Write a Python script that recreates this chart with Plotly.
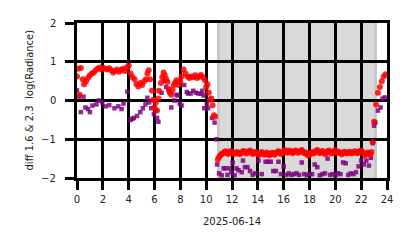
import numpy as np
import plotly.graph_objects as go

# ---- data ----
red_day_hours = [0.0, 0.1, 0.2, 0.3, 0.45, 0.55, 0.7, 0.85, 1.0, 1.15, 1.3, 1.45, 1.6, 1.75, 1.9,
                 2.05, 2.2, 2.35, 2.5, 2.65, 2.8, 2.95, 3.1, 3.25, 3.4, 3.55, 3.7, 3.85, 4.0,
                 4.15, 4.3, 4.45, 4.6, 4.75, 4.9, 5.05, 5.2, 5.35, 5.45, 5.55, 5.65, 5.8, 5.9,
                 6.0, 6.1, 6.2, 6.3, 6.35, 6.5, 6.6, 6.7, 6.8, 6.9, 7.0, 7.1, 7.2, 7.3, 7.4,
                 7.5, 7.6, 7.7, 7.85, 8.0, 8.1, 8.25, 8.4, 8.55, 8.7, 8.85, 9.0, 9.15, 9.3,
                 9.45, 9.6, 9.75, 9.9, 10.0, 10.1, 10.2, 10.3, 10.4, 10.5, 10.6, 10.7]
red_day_vals = [0.62, 0.82, 0.15, 0.84, 0.55, 0.42, 0.50, 0.58, 0.65, 0.70, 0.72, 0.78, 0.82, 0.85, 0.80,
                0.84, 0.82, 0.80, 0.83, 0.78, 0.72, 0.76, 0.80, 0.74, 0.78, 0.82, 0.76, 0.85, 0.90,
                0.70, 0.60, 0.55, 0.42, 0.36, 0.45, 0.40, 0.50, 0.55, 0.70, 0.78, 0.55, 0.25, 0.02,
                -0.18, -0.05, -0.26, 0.05, 0.25, 0.45, 0.60, 0.72, 0.65, 0.55, 0.48, 0.30, 0.20, 0.15,
                0.28, 0.40, 0.46, 0.52, 0.40, 0.50, 0.62, 0.80, 0.70, 0.62, 0.58, 0.62, 0.60, 0.65,
                0.58, 0.62, 0.66, 0.60, 0.52, 0.35, 0.42, 0.20, 0.02, 0.05, -0.12, -0.38, -0.42]

red_night_start = 10.9
red_night_step = 0.1
red_night_vals = [-1.52, -1.46, -1.42, -1.38, -1.36, -1.33, -1.31, -1.35, -1.38, -1.34,
                  -1.30, -1.32, -1.36, -1.38, -1.35, -1.33, -1.36, -1.39, -1.36, -1.32,
                  -1.30, -1.33, -1.37, -1.35, -1.31, -1.29, -1.33, -1.38, -1.36, -1.33,
                  -1.35, -1.38, -1.40, -1.36, -1.33, -1.37, -1.40, -1.37, -1.34, -1.38,
                  -1.41, -1.38, -1.35, -1.37, -1.40, -1.36, -1.33, -1.31, -1.35, -1.38,
                  -1.34, -1.30, -1.28, -1.32, -1.35, -1.31, -1.29, -1.33, -1.36, -1.32,
                  -1.29, -1.31, -1.35, -1.33, -1.30, -1.28, -1.32, -1.36, -1.34, -1.38,
                  -1.42, -1.40, -1.36, -1.33, -1.37, -1.34, -1.30, -1.28, -1.32, -1.36,
                  -1.33, -1.30, -1.34, -1.38, -1.35, -1.31, -1.29, -1.33, -1.37, -1.34,
                  -1.30, -1.28, -1.32, -1.35, -1.33, -1.36, -1.39, -1.35, -1.32, -1.34,
                  -1.37, -1.35, -1.32, -1.34, -1.37, -1.34, -1.31, -1.33, -1.36, -1.34,
                  -1.31, -1.29, -1.33, -1.37, -1.41, -1.38, -1.34, -1.37, -1.40, -1.33]

red_dawn_hours = [22.9, 23.0, 23.15, 23.3, 23.45, 23.6, 23.75, 23.9]
red_dawn_vals = [-1.08, -0.55, -0.10, 0.20, 0.35, 0.50, 0.62, 0.68]

purple_hours = [0.0, 0.15, 0.3, 0.5, 0.65, 0.85, 1.0, 1.2, 1.5, 1.7, 1.95, 2.2, 2.5, 2.9, 3.2,
                3.45, 3.6, 3.9, 4.15, 4.3, 4.4, 4.65, 4.9, 5.1, 5.3, 5.45, 5.6, 5.75, 5.95,
                6.1, 6.2, 6.3, 6.55, 6.75, 6.9, 7.1, 7.3, 7.55, 7.7, 7.8, 7.95, 8.1, 8.3,
                8.5, 8.6, 8.8, 9.0, 9.2, 9.4, 9.6, 9.7, 9.8, 9.85, 10.05, 10.15, 10.45, 10.65,
                10.8, 10.85, 11.0, 11.2, 11.35, 11.5, 11.65, 11.8, 11.95, 12.05, 12.2, 12.35,
                12.5, 12.75, 12.85, 13.0, 13.2, 13.4, 13.6, 13.8, 14.05, 14.3, 14.6, 14.8,
                15.0, 15.2, 15.4, 15.6, 15.8, 16.0, 16.2, 16.4, 16.6, 16.8, 17.0, 17.2, 17.4,
                17.6, 17.8, 18.0, 18.2, 18.4, 18.6, 18.8, 19.0, 19.2, 19.4, 19.6, 19.8, 20.0,
                20.2, 20.4, 20.6, 20.8, 21.0, 21.2, 21.4, 21.6, 21.8, 22.0, 22.2, 22.4, 22.6,
                22.75, 22.9, 23.0, 23.1, 23.3, 23.5, 23.65, 23.85]
purple_vals = [0.26, 0.10, -0.30, 0.10, -0.18, -0.22, -0.30, -0.13, -0.10, 0.00, -0.05, -0.15, -0.12, -0.20, -0.15,
               -0.22, -0.08, 0.23, -0.50, -0.47, -0.45, -0.40, -0.30, -0.20, -0.10, 0.07, -0.05, -0.20, -0.35,
               -0.25, -0.45, -0.55, 0.20, 0.50, 0.35, 0.25, -0.18, 0.00, 0.15, 0.13, -0.08, -0.13, 0.40,
               0.22, 0.18, 0.18, 0.25, 0.20, 0.18, 0.17, 0.25, 0.13, -0.20, -0.08, -0.20, -0.45, -0.57,
               -1.00, -1.65, -1.88, -1.93, -1.75, -1.75, -1.92, -1.75, -1.85, -1.60, -1.93, -1.75,
               -1.80, -1.85, -1.55, -1.72, -1.72, -1.82, -1.92, -1.88, -1.55, -1.90, -1.58, -1.58,
               -1.58, -1.82, -1.82, -1.58, -1.90, -1.70, -1.92, -1.88, -1.92, -1.90, -1.88, -1.92, -1.60,
               -1.90, -1.93, -1.90, -1.90, -1.65, -1.72, -1.93, -1.90, -1.88, -1.50, -1.92, -1.90, -1.93,
               -1.88, -1.90, -1.60, -1.62, -1.92, -1.88, -1.90, -1.85, -1.70, -1.55, -1.65, -1.55, -1.68,
               -1.48, -1.10, -0.65, -0.57, -0.26, -0.18, 0.05, 0.08]

night_start, night_end = 10.84, 23.22
x_ticks = list(range(0, 25, 2))
y_ticks = [-2, -1, 0, 1, 2]
y_tick_labels = ["\u22122", "\u22121", "0", "1", "2"]
x_title = "2025-06-14"
y_title = "diff 1.6 & 2.3  log(Radiance)"

red_night_hours = [round(red_night_start + i * red_night_step, 2) for i in range(len(red_night_vals))]
red_hours = red_day_hours + red_night_hours + red_dawn_hours
red_vals = red_day_vals + red_night_vals + red_dawn_vals

FONT = "DejaVu Sans"
TXT = dict(family=FONT, size=10, color="#222")
W, H = 414, 248
ML, MR, MT, MB = 77, 27, 23, 70
PW, PH = W - ML - MR, H - MT - MB

fig = go.Figure()
fig.add_trace(go.Scatter(x=purple_hours, y=purple_vals, mode="markers",
                         marker=dict(symbol="square", size=4.5, color="#800080", opacity=0.85),
                         showlegend=False, cliponaxis=False))
fig.add_trace(go.Scatter(x=red_hours, y=red_vals, mode="markers",
                         marker=dict(symbol="circle", size=6, color="#ff0000", opacity=0.85,
                                     line=dict(width=0)),
                         showlegend=False, cliponaxis=False))

# night shading
fig.add_shape(type="rect", xref="x", yref="y", x0=night_start, x1=night_end, y0=-2, y1=2,
              fillcolor="#d9d9d9", line=dict(width=0), layer="below")
fig.add_shape(type="rect", xref="x", yref="y", x0=night_start, x1=night_start + 0.22, y0=-2, y1=2,
              fillcolor="#c8c8c8", line=dict(width=0), layer="below")
fig.add_shape(type="rect", xref="x", yref="y", x0=night_end - 0.22, x1=night_end, y0=-2, y1=2,
              fillcolor="#c8c8c8", line=dict(width=0), layer="below")

axis_common = dict(showgrid=True, gridcolor="black", gridwidth=2.5, zeroline=False,
                   ticks="outside", ticklen=9, tickwidth=2.5, tickcolor="black",
                   tickfont=TXT,
                   showline=True, linecolor="black", linewidth=2.5, mirror=True)
fig.update_xaxes(range=[0, 24], tickvals=x_ticks, ticklabelstandoff=1, **axis_common,
                 title=dict(text=x_title, font=TXT, standoff=15))
fig.update_yaxes(range=[-2, 2], tickvals=y_ticks, showticklabels=False, **axis_common)

# y tick labels and title placed on the y scale, to the left of the ticks
for v, lab in zip(y_ticks, y_tick_labels):
    fig.add_annotation(x=(57 - ML) / PW, xref="paper", y=v, yref="y", text=lab,
                       showarrow=False, xanchor="right", yanchor="middle", font=TXT, borderpad=0)
fig.add_annotation(x=(29 - ML) / PW, xref="paper", y=0.5, yref="paper", text=y_title,
                   textangle=-90, showarrow=False, xanchor="center", yanchor="middle", font=TXT)

fig.update_layout(width=W, height=H, margin=dict(l=ML, r=MR, t=MT, b=MB),
                  plot_bgcolor="white", paper_bgcolor="white",
                  font=dict(family=FONT, size=10))
fig.write_html("out.html")
